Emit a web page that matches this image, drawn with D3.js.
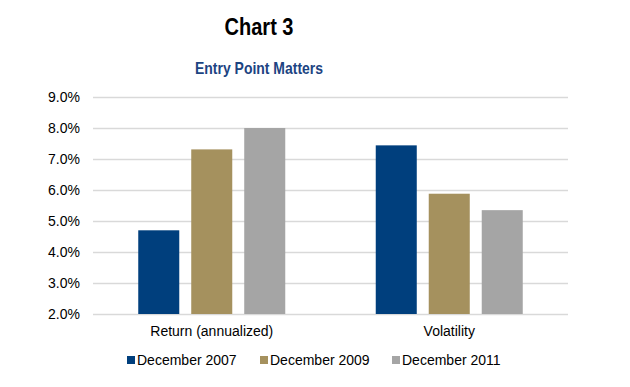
<!DOCTYPE html>
<html>
<head>
<meta charset="utf-8">
<script src="https://cdn.jsdelivr.net/npm/d3@7"></script>
<style>
  body { margin: 0; background: #fff; }
  svg { display: block; font-family: "Liberation Sans", Arial, sans-serif; }
</style>
</head>
<body>
<svg id="chart"></svg>
<script>
(function () {

  var width = 630, height = 387;

  // data
  var categories = ['Return (annualized)', 'Volatility'];
  var seriesNames = ['December 2007', 'December 2009', 'December 2011'];
  var dec2007 = [4.7, 7.44];
  var dec2009 = [7.31, 5.88];
  var dec2011 = [8.0, 5.35];
  var yTicks = [2, 3, 4, 5, 6, 7, 8, 9];

  var seriesValues = [dec2007, dec2009, dec2011];
  var colors = ['#003f7d', '#a5915e', '#a5a5a5'];

  var svg = d3.select('#chart')
    .attr('width', width)
    .attr('height', height);

  var margin = { left: 93, right: 62, top: 97, bottom: 73 };
  var groupWidth = 147;

  var x = d3.scaleBand()
    .domain(categories)
    .range([margin.left, width - margin.right]);

  var x1 = d3.scaleBand()
    .domain(seriesNames)
    .range([0, groupWidth])
    .paddingInner(0.226)
    .paddingOuter(0);

  var y = d3.scaleLinear()
    .domain([2, 9])
    .range([height - margin.bottom, margin.top]);

  // titles (narrow bold); squeeze if narrow face is missing
  function fitText(sel, target) {
    var n = sel.node();
    var w = n.getComputedTextLength();
    if (w > target * 1.06) {
      sel.attr('textLength', target).attr('lengthAdjust', 'spacingAndGlyphs');
    }
  }

  var title = svg.append('text')
    .attr('x', 259).attr('y', 35)
    .attr('text-anchor', 'middle')
    .style('font-family', '"Liberation Sans Narrow", "Arial Narrow", "Liberation Sans", Arial, sans-serif')
    .style('font-weight', 'bold')
    .style('font-size', '24px')
    .attr('fill', '#000')
    .text('Chart 3');
  fitText(title, 69);

  var sub = svg.append('text')
    .attr('x', 259).attr('y', 74)
    .attr('text-anchor', 'middle')
    .style('font-family', '"Liberation Sans Narrow", "Arial Narrow", "Liberation Sans", Arial, sans-serif')
    .style('font-weight', 'bold')
    .style('font-size', '16.5px')
    .attr('fill', '#1c4482')
    .text('Entry Point Matters');
  fitText(sub, 128);

  // grid
  var yAxis = d3.axisLeft(y)
    .tickValues(yTicks)
    .tickSize(-(width - margin.left - margin.right))
    .tickPadding(13)
    .tickFormat(function (d) { return d.toFixed(1) + '%'; });

  var gy = svg.append('g')
    .attr('transform', 'translate(' + margin.left + ',0)')
    .call(yAxis);
  gy.select('.domain').remove();
  gy.selectAll('.tick line')
    .attr('stroke', '#d9d9d9')
    .attr('stroke-width', 1.3);
  gy.selectAll('.tick text')
    .attr('fill', '#000')
    .style('font-size', '14px')
    .style('font-family', '"Liberation Sans", Arial, sans-serif');

  // bars
  var groups = svg.append('g').selectAll('g')
    .data(categories)
    .join('g')
    .attr('transform', function (c) {
      return 'translate(' + (x(c) + x.bandwidth() / 2 - groupWidth / 2) + ',0)';
    });

  groups.selectAll('rect')
    .data(function (c, ci) {
      return seriesNames.map(function (s, si) {
        return { series: s, value: seriesValues[si][ci], color: colors[si] };
      });
    })
    .join('rect')
    .attr('x', function (d) { return x1(d.series); })
    .attr('width', x1.bandwidth())
    .attr('y', function (d) { return y(d.value); })
    .attr('height', function (d) { return y(2) - y(d.value); })
    .attr('fill', function (d) { return d.color; });

  // category labels
  svg.append('g').selectAll('text')
    .data(categories)
    .join('text')
    .attr('x', function (c) { return x(c) + x.bandwidth() / 2; })
    .attr('y', 336)
    .attr('text-anchor', 'middle')
    .style('font-size', '14px')
    .attr('fill', '#000')
    .text(function (c) { return c; });

  // legend
  var legendX = [127, 260, 392];
  var legend = svg.append('g').selectAll('g')
    .data(seriesNames)
    .join('g')
    .attr('transform', function (d, i) { return 'translate(' + legendX[i] + ',0)'; });

  legend.append('rect')
    .attr('x', 0).attr('y', 356)
    .attr('width', 8).attr('height', 8)
    .attr('fill', function (d, i) { return colors[i]; });

  legend.append('text')
    .attr('x', 10).attr('y', 365)
    .style('font-size', '14px')
    .attr('fill', '#000')
    .text(function (d) { return d; });

})();
</script>
</body>
</html>
